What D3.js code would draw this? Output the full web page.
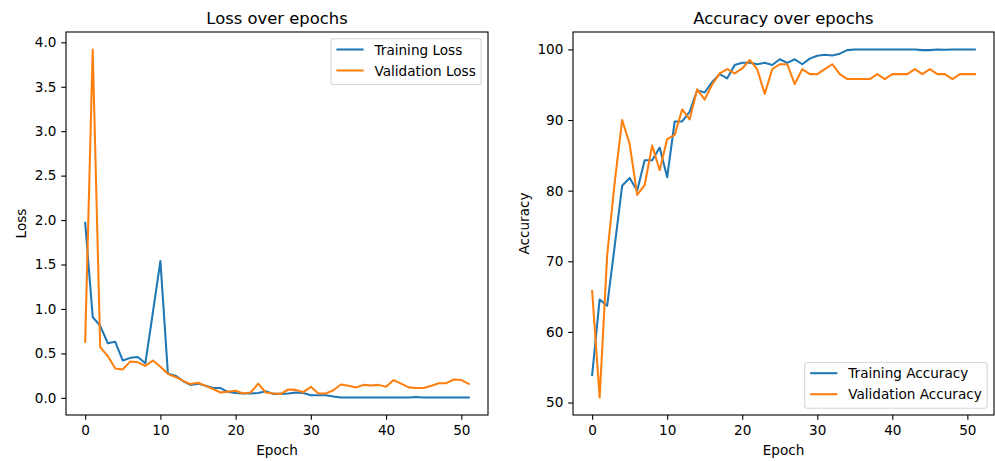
<!DOCTYPE html>
<meta charset="utf-8">
<html lang="en">
<head>
<title>Loss and accuracy over epochs</title>
<script src="https://d3js.org/d3.v7.min.js"></script>
<style>
    body { margin: 0; background: #fff; }
    svg text { font-family: "DejaVu Sans", sans-serif; fill: #000; }
</style>
</head>
<body>
<div id="my_dataviz"></div>

<script>

    // values, one per epoch (0..51)
    var trainLoss = [1.97, 0.91, 0.81, 0.615, 0.63, 0.42, 0.45, 0.46, 0.39, 0.96,
        1.54, 0.27, 0.25, 0.19, 0.146, 0.16, 0.135, 0.11, 0.11, 0.065,
        0.055, 0.05, 0.05, 0.055, 0.075, 0.045, 0.045, 0.05, 0.06, 0.055,
        0.03, 0.03, 0.03, 0.015, 0.005, 0.003, 0.003, 0.003, 0.003, 0.003,
        0.003, 0.003, 0.003, 0.003, 0.01, 0.003, 0.003, 0.003, 0.003, 0.003,
        0.003, 0.003];
    var valLoss = [0.63, 3.92, 0.57, 0.47, 0.33, 0.32, 0.41, 0.40, 0.36, 0.42,
        0.35, 0.27, 0.235, 0.19, 0.155, 0.17, 0.135, 0.10, 0.06, 0.07,
        0.08, 0.05, 0.06, 0.16, 0.06, 0.05, 0.045, 0.094, 0.09, 0.064,
        0.124, 0.05, 0.05, 0.086, 0.15, 0.135, 0.116, 0.146, 0.14, 0.146,
        0.124, 0.2, 0.16, 0.118, 0.11, 0.11, 0.135, 0.165, 0.165, 0.206,
        0.2, 0.156];
    var trainAcc = [53.9, 64.6, 63.7, 72.1, 80.7, 81.8, 80.0, 84.3, 84.3, 86.1,
        81.9, 89.8, 89.8, 91.2, 94.2, 93.9, 95.4, 96.5, 95.9, 97.8,
        98.1, 98.1, 97.9, 98.1, 97.8, 98.6, 98.1, 98.6, 97.9, 98.7,
        99.1, 99.25, 99.15, 99.4, 99.9, 100, 100, 100, 100, 100,
        100, 100, 100, 100, 99.9, 99.9, 100, 99.95, 100, 100,
        100, 100];
    var valAcc = [65.8, 50.7, 70.8, 81.1, 90.0, 86.6, 79.4, 80.8, 86.4, 82.9,
        87.3, 87.9, 91.5, 90.1, 94.35, 92.9, 95.05, 96.6, 97.2, 96.6,
        97.3, 98.5, 97.2, 93.7, 97.2, 97.9, 97.9, 95.1, 97.2, 96.5,
        96.5, 97.2, 97.9, 96.5, 95.8, 95.8, 95.8, 95.8, 96.5, 95.8,
        96.5, 96.5, 96.5, 97.2, 96.5, 97.2, 96.5, 96.5, 95.8, 96.5,
        96.5, 96.5];

    var epochs = d3.range(trainLoss.length);

    // tick labels
    var epochTicks = [0, 10, 20, 30, 40, 50];
    var lossTicks = [0, 0.5, 1.0, 1.5, 2.0, 2.5, 3.0, 3.5, 4.0];
    var accTicks = [50, 60, 70, 80, 90, 100];

    // matplotlib-ish sizes (dpi ~98)
    const FONT = 13.6, TITLE_FONT = 16.4;
    const TICK_LEN = 4.8, TICK_PAD = 4.8;
    const LINE_W = 2.05, SPINE_W = 1.1;
    const BLUE = "#1f77b4", ORANGE = "#ff7f0e";

    var svg = d3.select("#my_dataviz").append("svg")
        .attr("width", 995)
        .attr("height", 461);

    // pad a data extent by 5% each side like matplotlib does
    function padded(ext) {
        var m = (ext[1] - ext[0]) * 0.05;
        return [ext[0] - m, ext[1] + m];
    }

    function drawPanel(p) {
        var g = svg.append("g");

        var x = d3.scaleLinear()
            .domain(padded(d3.extent(epochs)))
            .range([p.left, p.right]);
        var y = d3.scaleLinear()
            .domain(padded(d3.extent(p.series[0].values.concat(p.series[1].values))))
            .range([p.bottom, p.top]);

        var xAxis = g.append("g")
            .attr("transform", "translate(0," + p.bottom + ")")
            .call(d3.axisBottom(x).tickValues(epochTicks).tickSize(TICK_LEN).tickPadding(TICK_PAD).tickFormat(d3.format("d")));
        var yAxis = g.append("g")
            .attr("transform", "translate(" + p.left + ",0)")
            .call(d3.axisLeft(y).tickValues(p.yTicks).tickSize(TICK_LEN).tickPadding(TICK_PAD).tickFormat(p.yFormat));

        [xAxis, yAxis].forEach(function (a) {
            a.select(".domain").remove();
            a.selectAll("line").attr("stroke", "#000").attr("stroke-width", SPINE_W);
            a.selectAll("text").attr("font-size", FONT).attr("font-family", "DejaVu Sans");
        });
        xAxis.selectAll("text").attr("dy", "0.74em");

        // lines
        var line = d3.line()
            .x(function (d, i) { return x(epochs[i]); })
            .y(function (d) { return y(d); });

        p.series.forEach(function (s) {
            g.append("path")
                .datum(s.values)
                .attr("fill", "none")
                .attr("stroke", s.color)
                .attr("stroke-width", LINE_W)
                .attr("stroke-linejoin", "round")
                .attr("stroke-linecap", "square")
                .attr("d", line);
        });

        // spines
        g.append("rect")
            .attr("x", p.left).attr("y", p.top)
            .attr("width", p.right - p.left).attr("height", p.bottom - p.top)
            .attr("fill", "none").attr("stroke", "#000").attr("stroke-width", SPINE_W);

        // title + axis labels
        g.append("text")
            .attr("x", (p.left + p.right) / 2).attr("y", p.top - 8.3)
            .attr("text-anchor", "middle").attr("font-size", TITLE_FONT)
            .text(p.title);
        g.append("text")
            .attr("x", (p.left + p.right) / 2).attr("y", 454.5)
            .attr("text-anchor", "middle").attr("font-size", FONT)
            .text("Epoch");

        // y label goes left of the widest tick label
        var tickW = d3.max(yAxis.selectAll("text").nodes(), function (n) { return n.getComputedTextLength(); });
        var yl = p.left - TICK_LEN - TICK_PAD - tickW - 5.4 - 3.2;
        g.append("text")
            .attr("transform", "translate(" + yl + "," + ((p.top + p.bottom) / 2) + ")rotate(-90)")
            .attr("text-anchor", "middle").attr("font-size", FONT)
            .text(p.yLabel);

        // legend
        var leg = g.append("g");
        var pad = 0.4 * FONT, handle = 2 * FONT, hpad = 0.8 * FONT;
        var texts = p.series.map(function (s, i) {
            return leg.append("text").attr("font-size", FONT).text(s.name);
        });
        var textW = d3.max(texts, function (t) { return t.node().getComputedTextLength(); });
        var w = pad * 2 + handle + hpad + textW, h = 45.7;
        var lx = p.right - 0.5 * FONT - w;
        var ly = p.legendPos == "upper" ? p.top + 0.5 * FONT : p.bottom - 0.5 * FONT - h;

        leg.insert("rect", ":first-child")
            .attr("x", lx).attr("y", ly).attr("width", w).attr("height", h)
            .attr("rx", 2.8)
            .attr("fill", "#fff").attr("fill-opacity", 0.8)
            .attr("stroke", "#cccccc").attr("stroke-opacity", 0.8).attr("stroke-width", 1.1);

        p.series.forEach(function (s, i) {
            var cy = ly + 10.7 + i * 21;
            leg.append("line")
                .attr("x1", lx + pad).attr("x2", lx + pad + handle)
                .attr("y1", cy).attr("y2", cy)
                .attr("stroke", s.color).attr("stroke-width", LINE_W);
            texts[i].attr("x", lx + pad + handle + hpad).attr("y", cy + 5.2);
        });
    }

    drawPanel({
        left: 66, right: 488, top: 32, bottom: 415,
        title: "Loss over epochs", yLabel: "Loss",
        yTicks: lossTicks, yFormat: d3.format(".1f"),
        legendPos: "upper",
        series: [
            { name: "Training Loss", values: trainLoss, color: BLUE },
            { name: "Validation Loss", values: valLoss, color: ORANGE }
        ]
    });

    drawPanel({
        left: 573, right: 994, top: 32, bottom: 415,
        title: "Accuracy over epochs", yLabel: "Accuracy",
        yTicks: accTicks, yFormat: d3.format("d"),
        legendPos: "lower",
        series: [
            { name: "Training Accuracy", values: trainAcc, color: BLUE },
            { name: "Validation Accuracy", values: valAcc, color: ORANGE }
        ]
    });

</script>
</body>
</html>
